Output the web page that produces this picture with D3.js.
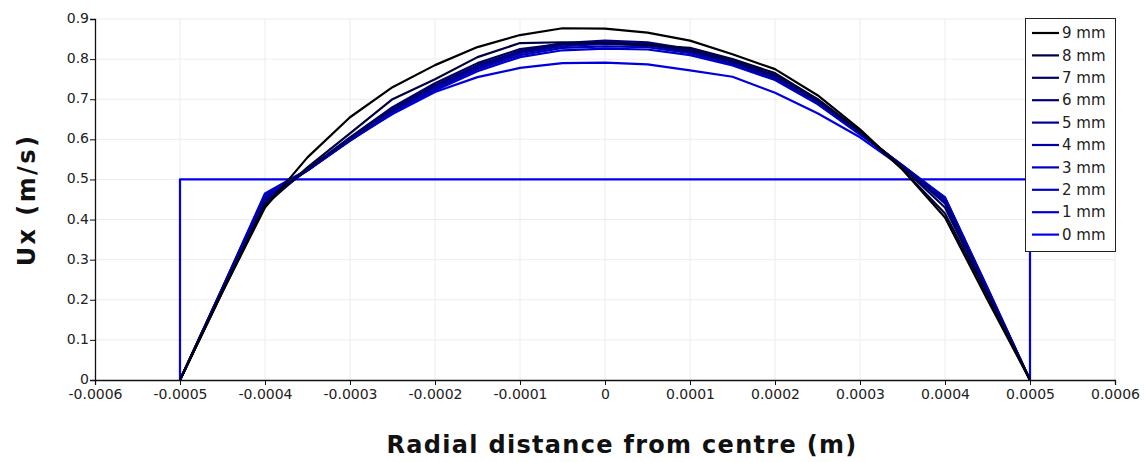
<!DOCTYPE html>
<html>
<head>
<meta charset="utf-8">
<script src="https://cdn.jsdelivr.net/npm/d3@7"></script>
<style>
  html, body { margin: 0; padding: 0; background: #fff; }
  svg { display: block; }
</style>
</head>
<body>
<svg id="chart" width="1145" height="462"></svg>
<script>
// Velocity profiles Ux across the channel at several axial stations
const seriesNames = ["9 mm", "8 mm", "7 mm", "6 mm", "5 mm", "4 mm", "3 mm", "2 mm", "1 mm", "0 mm"];

const radialPos = [-0.0005, -0.00045, -0.0004, -0.00035, -0.0003, -0.00025, -0.0002, -0.00015, -0.0001, -0.00005,
                   0, 0.00005, 0.0001, 0.00015, 0.0002, 0.00025, 0.0003, 0.00035, 0.0004, 0.00045, 0.0005];

const ux9mm = [0, 0.22, 0.43, 0.555, 0.655, 0.73, 0.785, 0.83, 0.86, 0.877, 0.876, 0.866, 0.846, 0.812, 0.775, 0.71, 0.625, 0.525, 0.405, 0.2, 0];
const ux8mm = [0, 0.22, 0.435, 0.53, 0.615, 0.7, 0.75, 0.805, 0.84, 0.842, 0.84, 0.834, 0.828, 0.8, 0.765, 0.7, 0.62, 0.525, 0.415, 0.21, 0];
const ux7mm = [0, 0.222, 0.44, 0.525, 0.605, 0.68, 0.74, 0.79, 0.825, 0.838, 0.84, 0.838, 0.82, 0.795, 0.76, 0.7, 0.62, 0.53, 0.43, 0.215, 0];
const ux6mm = [0, 0.225, 0.445, 0.525, 0.603, 0.675, 0.735, 0.785, 0.82, 0.84, 0.846, 0.842, 0.825, 0.795, 0.758, 0.698, 0.618, 0.532, 0.44, 0.22, 0];
const ux5mm = [0, 0.226, 0.45, 0.523, 0.6, 0.672, 0.732, 0.782, 0.818, 0.836, 0.842, 0.838, 0.822, 0.792, 0.755, 0.695, 0.617, 0.533, 0.445, 0.222, 0];
const ux4mm = [0, 0.228, 0.455, 0.522, 0.598, 0.67, 0.728, 0.778, 0.815, 0.832, 0.838, 0.835, 0.818, 0.79, 0.752, 0.693, 0.616, 0.534, 0.45, 0.225, 0];
const ux3mm = [0, 0.229, 0.46, 0.522, 0.597, 0.668, 0.725, 0.775, 0.81, 0.828, 0.832, 0.83, 0.815, 0.787, 0.75, 0.69, 0.614, 0.535, 0.452, 0.226, 0];
const ux2mm = [0, 0.23, 0.463, 0.523, 0.596, 0.665, 0.722, 0.77, 0.805, 0.822, 0.826, 0.824, 0.81, 0.784, 0.748, 0.688, 0.612, 0.535, 0.455, 0.228, 0];
const ux1mm = [0, 0.23, 0.465, 0.525, 0.598, 0.663, 0.718, 0.755, 0.778, 0.79, 0.791, 0.787, 0.772, 0.756, 0.716, 0.665, 0.605, 0.53, 0.455, 0.23, 0];

// Inlet (0 mm): uniform plug profile with sharp walls
const inletPos = [-0.0005, -0.0005, 0.0005, 0.0005];
const ux0mm = [0, 0.5, 0.5, 0];

const xTicks = [-0.0006, -0.0005, -0.0004, -0.0003, -0.0002, -0.0001, 0, 0.0001, 0.0002, 0.0003, 0.0004, 0.0005, 0.0006];
const xTickLabels = ["-0.0006", "-0.0005", "-0.0004", "-0.0003", "-0.0002", "-0.0001", "0", "0.0001", "0.0002", "0.0003", "0.0004", "0.0005", "0.0006"];
const yTicks = [0, 0.1, 0.2, 0.3, 0.4, 0.5, 0.6, 0.7, 0.8, 0.9];
const yTickLabels = ["0", "0.1", "0.2", "0.3", "0.4", "0.5", "0.6", "0.7", "0.8", "0.9"];

const profiles = [
  { name: seriesNames[0], x: radialPos, y: ux9mm },
  { name: seriesNames[1], x: radialPos, y: ux8mm },
  { name: seriesNames[2], x: radialPos, y: ux7mm },
  { name: seriesNames[3], x: radialPos, y: ux6mm },
  { name: seriesNames[4], x: radialPos, y: ux5mm },
  { name: seriesNames[5], x: radialPos, y: ux4mm },
  { name: seriesNames[6], x: radialPos, y: ux3mm },
  { name: seriesNames[7], x: radialPos, y: ux2mm },
  { name: seriesNames[8], x: radialPos, y: ux1mm },
  { name: seriesNames[9], x: inletPos, y: ux0mm }
];

// black for the furthest station, shading to blue at the inlet
const colour = d3.scaleLinear().domain([0, 9]).range(["#000000", "#0000f0"]).interpolate(d3.interpolateRgb.gamma(1.6));

const svg = d3.select("#chart");
const W = 1145, H = 462;
const m = { left: 95, right: 30, top: 19, bottom: 82 };
const x = d3.scaleLinear().domain([-0.0006, 0.0006]).range([m.left, W - m.right]);
const y = d3.scaleLinear().domain([0, 0.9]).range([H - m.bottom, m.top]);

const font = "'DejaVu Sans', Verdana, sans-serif";

// grid
const grid = svg.append("g");
grid.selectAll("line.gx").data(xTicks.slice(1)).join("line")
  .attr("x1", d => x(d)).attr("x2", d => x(d))
  .attr("y1", y(0)).attr("y2", y(0.9))
  .attr("stroke", "#ececec").attr("stroke-width", 1);
grid.selectAll("line.gy").data(yTicks.slice(1)).join("line")
  .attr("x1", x(-0.0006)).attr("x2", x(0.0006))
  .attr("y1", d => y(d)).attr("y2", d => y(d))
  .attr("stroke", "#ececec").attr("stroke-width", 1);

// profiles: draw the 0 mm inlet first, then from 1 mm up to 9 mm so darker lines sit on top
const line = d3.line().x(d => x(d[0])).y(d => y(d[1]));
const plot = svg.append("g");
profiles.slice().reverse().forEach(p => {
  const idx = seriesNames.indexOf(p.name);
  plot.append("path")
    .datum(p.x.map((v, k) => [v, p.y[k]]))
    .attr("d", line)
    .attr("fill", "none")
    .attr("stroke", colour(idx))
    .attr("stroke-width", 2.2)
    .attr("stroke-linejoin", "round");
});

// axes
const xAxis = d3.axisBottom(x).tickValues(xTicks).tickFormat((d, i) => xTickLabels[i]).tickSize(5).tickPadding(4);
const yAxis = d3.axisLeft(y).tickValues(yTicks).tickFormat((d, i) => yTickLabels[i]).tickSize(5).tickPadding(1);

const gx = svg.append("g").attr("transform", `translate(0,${y(0)})`).call(xAxis);
const gy = svg.append("g").attr("transform", `translate(${x(-0.0006)},0)`).call(yAxis);
[gx, gy].forEach(g => {
  g.select(".domain").attr("stroke", "#111").attr("stroke-width", 1.3);
  g.selectAll(".tick line").attr("stroke", "#111");
  g.selectAll(".tick text").attr("font-family", font).attr("font-size", 14).attr("fill", "#222");
});
gy.selectAll(".tick text").attr("dy", "0.25em");

// axis titles
svg.append("text")
  .attr("x", 622).attr("y", 453)
  .attr("text-anchor", "middle")
  .attr("font-family", font).attr("font-weight", "bold").attr("font-size", 24)
  .attr("letter-spacing", 1.3)
  .attr("fill", "#111")
  .text("Radial distance from centre (m)");
svg.append("text")
  .attr("transform", "translate(35,200) rotate(-90)")
  .attr("text-anchor", "middle")
  .attr("font-family", font).attr("font-weight", "bold").attr("font-size", 24)
  .attr("letter-spacing", 2.4)
  .attr("fill", "#111")
  .text("Ux (m/s)");

// legend
const lg = svg.append("g");
lg.append("rect")
  .attr("x", 1025.5).attr("y", 18.5).attr("width", 90).attr("height", 233)
  .attr("fill", "#fff").attr("stroke", "#222").attr("stroke-width", 1);
seriesNames.forEach((name, i) => {
  const yy = 33 + i * 22.4;
  lg.append("line")
    .attr("x1", 1032).attr("x2", 1059).attr("y1", yy).attr("y2", yy)
    .attr("stroke", colour(i)).attr("stroke-width", 2.2);
  lg.append("text")
    .attr("x", 1062).attr("y", yy).attr("dy", "0.35em")
    .attr("font-family", font).attr("font-size", 15).attr("fill", "#222")
    .text(name);
});
</script>
</body>
</html>
